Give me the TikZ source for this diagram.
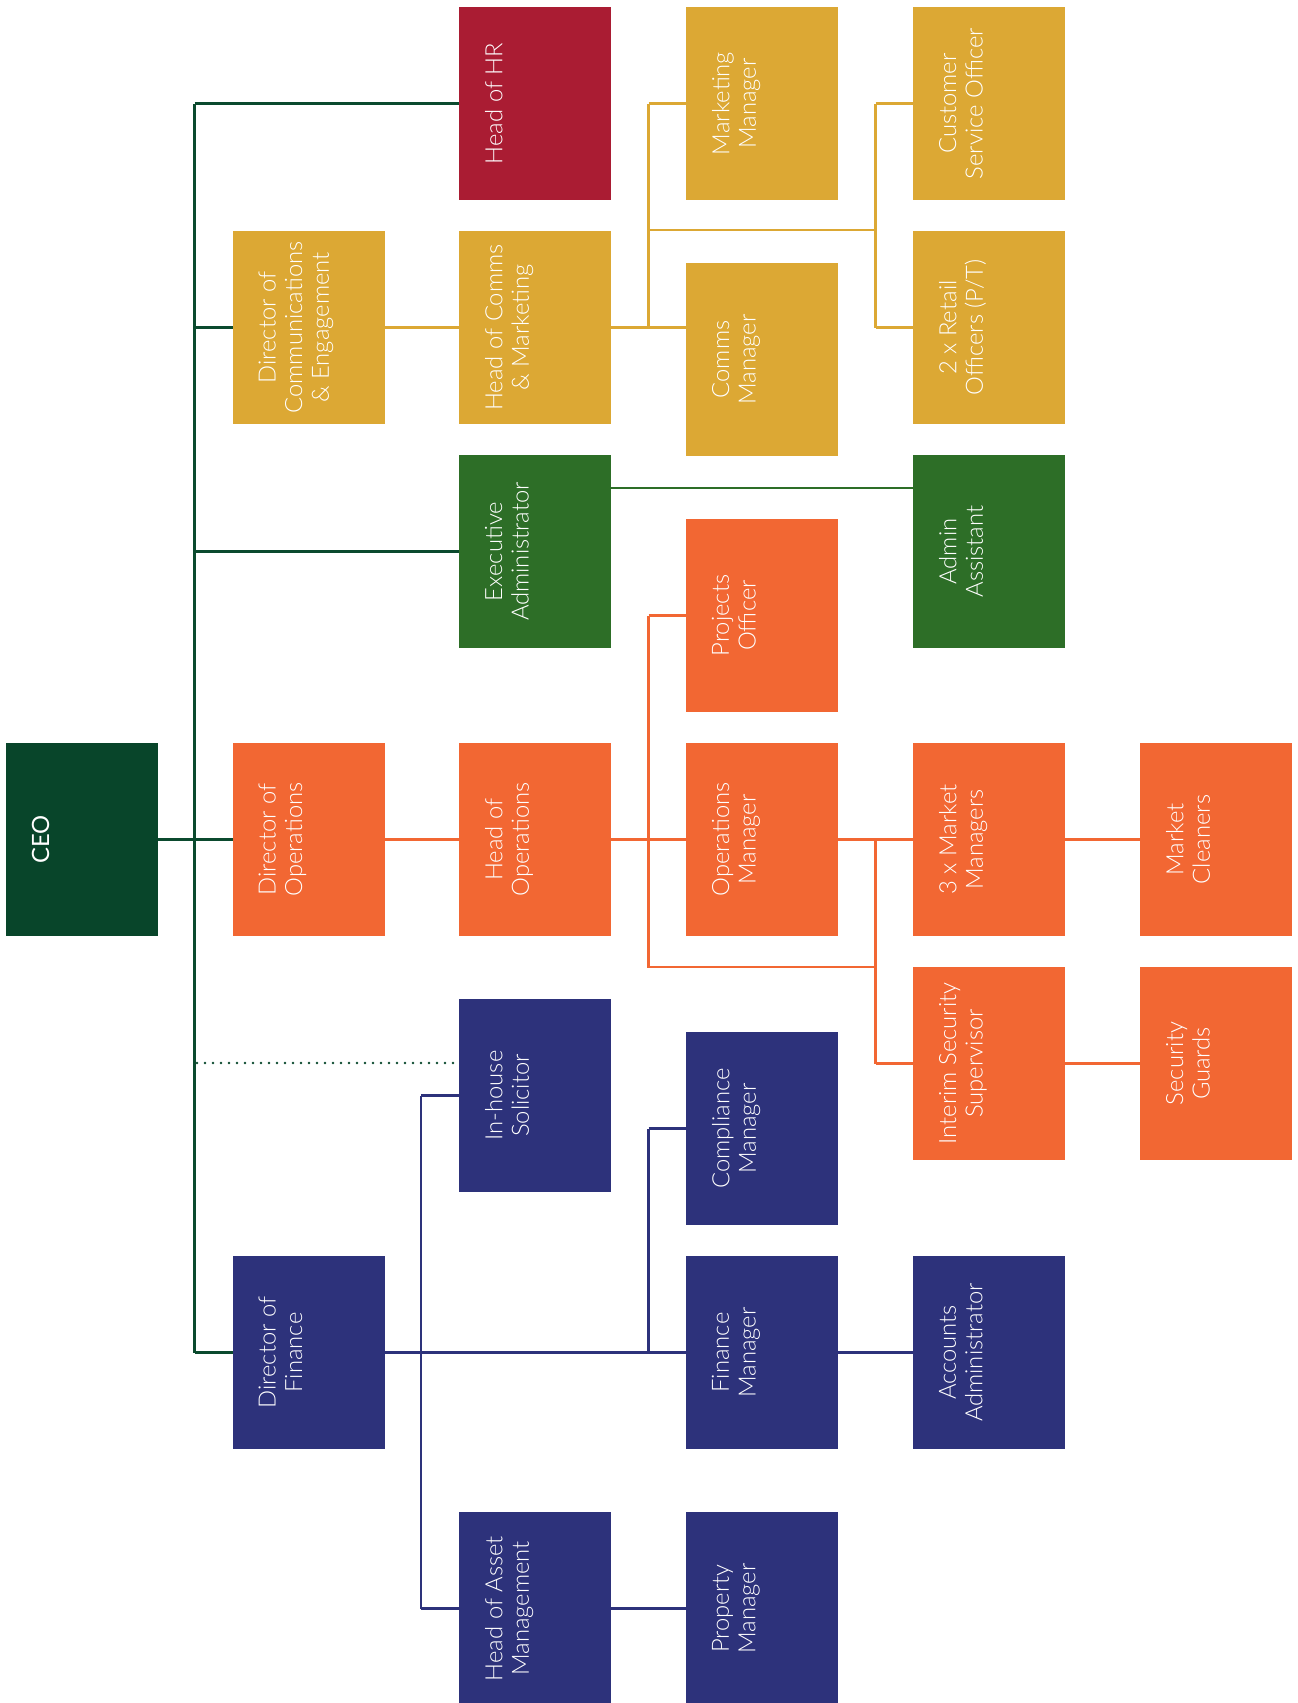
\documentclass[tikz,border=0pt]{standalone}
\usepackage{fontspec}
\setmainfont{Lato Light}
\newfontfamily\ceofont{Lato}
\usetikzlibrary{calc}
\definecolor{ceogreen}{HTML}{08452A}
\definecolor{spinegreen}{HTML}{0B4A2E}
\definecolor{hrred}{HTML}{AA1C33}
\definecolor{commyellow}{HTML}{DCA834}
\definecolor{admgreen}{HTML}{2D6E27}
\definecolor{opsorange}{HTML}{F26733}
\definecolor{finnavy}{HTML}{2D327B}
\newcommand\orgbox[5]{%
  \node[box, fill=#4] (#1) at (#2,#3) {};
  \node[lbl] (#1-t) at ([xshift=12.8pt]#1.west) {#5};}
\begin{document}
\begin{tikzpicture}[x=0.5pt,y=-0.5pt,
  box/.style={minimum width=76pt, minimum height=96.5pt, inner sep=0pt, outer sep=0pt, draw=none},
  lbl/.style={rotate=90, anchor=north, align=center, text=white, inner sep=0pt,
              font=\fontsize{11.9}{13.3}\selectfont},
  ln/.style={line width=1.3pt},
  dotln/.style={line width=1.3pt, line cap=round, dash pattern=on 0pt off 4pt}]
\useasboundingbox (0,0) rectangle (1297,1703);
\begin{scope}
\clip (0,0) rectangle (1297,1703);
% column centres: 82, 308.5, 535, 762, 989, 1216
\orgbox{ceo}{82}{839.5}{ceogreen}{\ceofont CEO}
\orgbox{hr}{535}{103.5}{hrred}{Head of HR}
\orgbox{mkt}{762}{103.5}{commyellow}{Marketing\\Manager}
\orgbox{cust}{989}{103.5}{commyellow}{Customer\\Service Officer}
\orgbox{dircomms}{308.5}{327.5}{commyellow}{Director of\\Communications\\\& Engagement}
\orgbox{headcomms}{535}{327.5}{commyellow}{Head of Comms\\\& Marketing}
\orgbox{commsmgr}{762}{359.5}{commyellow}{Comms\\Manager}
\orgbox{retail}{989}{327.5}{commyellow}{2 x Retail\\Officers (P/T)}
\orgbox{exec}{535}{551.5}{admgreen}{Executive\\Administrator}
\orgbox{admin}{989}{551.5}{admgreen}{Admin\\Assistant}
\orgbox{projects}{762}{615.5}{opsorange}{Projects\\Officer}
\orgbox{dirops}{308.5}{839.5}{opsorange}{Director of\\Operations}
\orgbox{headops}{535}{839.5}{opsorange}{Head of\\Operations}
\orgbox{opsmgr}{762}{839.5}{opsorange}{Operations\\Manager}
\orgbox{market}{989}{839.5}{opsorange}{3 x Market\\Managers}
\orgbox{cleaners}{1216}{839.5}{opsorange}{Market\\Cleaners}
\orgbox{interim}{989}{1063.5}{opsorange}{Interim Security\\Supervisor}
\orgbox{security}{1216}{1063.5}{opsorange}{Security\\Guards}
\orgbox{solicitor}{535}{1095.5}{finnavy}{In-house\\Solicitor}
\orgbox{compliance}{762}{1128.5}{finnavy}{Compliance\\Manager}
\orgbox{dirfin}{308.5}{1352.5}{finnavy}{Director of\\Finance}
\orgbox{finmgr}{762}{1352.5}{finnavy}{Finance\\Manager}
\orgbox{accounts}{989}{1352.5}{finnavy}{Accounts\\Administrator}
\orgbox{headasset}{535}{1608.5}{finnavy}{Head of Asset\\Management}
\orgbox{property}{762}{1608.5}{finnavy}{Property\\Manager}
\end{scope}
% CEO spine
\coordinate (spT) at (194.5,103.5);
\coordinate (spB) at (194.5,1352.5);
\coordinate (spDot) at (197,1063);
\begin{scope}[ln, draw=spinegreen]
\draw (spT) -- (spB);
\draw (ceo.east) -- (dirops.west);
\draw (spT) -- (hr.west);
\draw (spT |- dircomms.west) -- (dircomms.west);
\draw (spT |- exec.west) -- (exec.west);
\draw (spB) -- (dirfin.west);
\end{scope}
\draw[dotln, draw=spinegreen] (spDot) -- (spDot -| solicitor.west);
% Comms
\coordinate (yA) at (648.5,103.5);
\coordinate (yB) at (648.5,327.5);
\coordinate (yC) at (875.5,103.5);
\coordinate (yD) at (875.5,327.5);
\coordinate (yE) at (648.5,230);
\coordinate (yF) at (875.5,230);
\begin{scope}[ln, draw=commyellow]
\draw (dircomms.east) -- (headcomms.west);
\draw (headcomms.east) -- (headcomms.east -| commsmgr.west);
\draw (yA) -- (yB);
\draw (yA) -- (mkt.west);
\draw (yE) -- (yF);
\draw (yC) -- (yD);
\draw (yC) -- (cust.west);
\draw (yD) -- (retail.west);
\end{scope}
% Admin
\coordinate (gA) at (610.5,488);
\draw[ln, draw=admgreen] (gA) -- (gA -| admin.west);
% Operations
\coordinate (oA) at (648.5,615.5);
\coordinate (oB) at (648.5,967);
\coordinate (oC) at (875.5,967);
\coordinate (oD) at (875.5,839.5);
\coordinate (oE) at (875.5,1063.5);
\begin{scope}[ln, draw=opsorange]
\draw (dirops.east) -- (headops.west);
\draw (headops.east) -- (opsmgr.west);
\draw (oA) -- (oB) -- (oC);
\draw (oA) -- (projects.west);
\draw (oD) -- (oE);
\draw (opsmgr.east) -- (market.west);
\draw (oE) -- (interim.west);
\draw (market.east) -- (cleaners.west);
\draw (interim.east) -- (security.west);
\end{scope}
% Finance
\coordinate (nA) at (421,1095.5);
\coordinate (nB) at (421,1608.5);
\coordinate (nC) at (648.5,1128.5);
\coordinate (nD) at (648.5,1352.5);
\begin{scope}[ln, draw=finnavy]
\draw (dirfin.east) -- (finmgr.west);
\draw (nA) -- (nB);
\draw (nA) -- (solicitor.west);
\draw (nB) -- (headasset.west);
\draw (nC) -- (nD);
\draw (nC) -- (compliance.west);
\draw (finmgr.east) -- (accounts.west);
\draw (headasset.east) -- (property.west);
\end{scope}
\end{tikzpicture}
\end{document}
